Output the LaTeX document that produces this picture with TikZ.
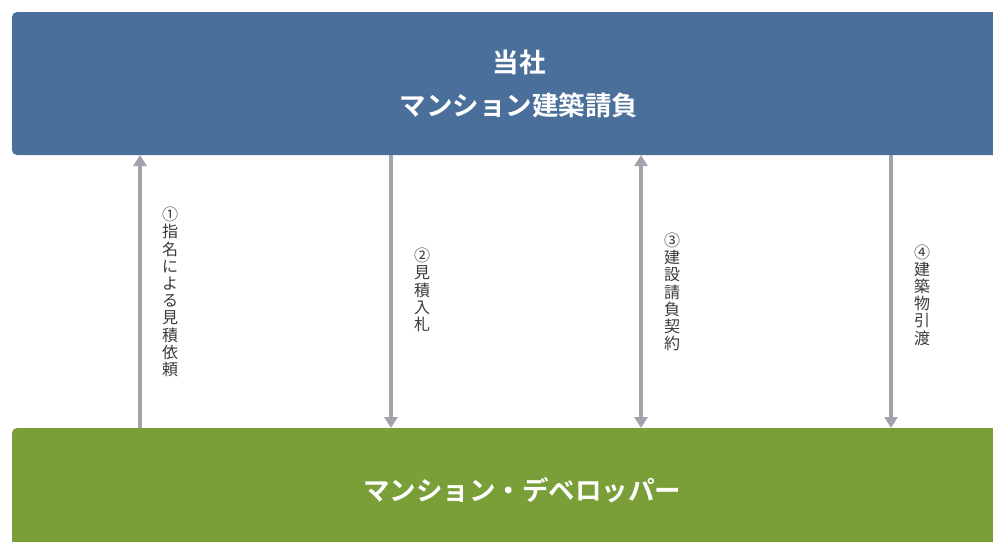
\documentclass[tikz,border=0pt]{standalone}
\usepackage{fontspec}
\newfontfamily\jp{Noto Sans CJK JP}[BoldFont={Noto Sans CJK JP Bold}]
\usetikzlibrary{arrows.meta}
\definecolor{topblue}{HTML}{4A6F9A}
\definecolor{devgreen}{HTML}{7A9F38}
\definecolor{arrgray}{HTML}{A3A3AB}
\definecolor{labgray}{HTML}{3A3A3A}
\tikzset{
  boxtext/.style={text=white,font=\jp\bfseries\fontsize{26.5}{43}\selectfont,align=center},
  flow/.style={draw=arrgray,line width=4pt,-{Triangle[width=13pt,length=11pt]}},
  flowboth/.style={draw=arrgray,line width=4pt,{Triangle[width=13pt,length=11pt]}-{Triangle[width=13pt,length=11pt]}},
  vlabel/.style={text=labgray,font=\jp\fontsize{16}{17.2}\selectfont,align=center,inner sep=0pt}
}
\begin{document}
\begin{tikzpicture}[x=1pt,y=-1pt]
\useasboundingbox (0,0) rectangle (993,541);
\fill[topblue,rounded corners=5pt] (12,12) rectangle (1020,155);
\fill[devgreen,rounded corners=5pt] (12,428) rectangle (1020,570);
\node[boxtext] (top) at (519,83.5) {当社\\マンション建築請負};
\node[boxtext] (dev) at (522,490) {マンション・デベロッパー};
\coordinate (t1) at (140,155); \coordinate (b1) at (140,428);
\coordinate (t2) at (391,155); \coordinate (b2) at (391,428);
\coordinate (t3) at (641,155); \coordinate (b3) at (641,428);
\coordinate (t4) at (891,155); \coordinate (b4) at (891,428);
\draw[flow] (b1) -- (t1);
\draw[flow] (t2) -- (b2);
\draw[flowboth] (t3) -- (b3);
\draw[flow] (t4) -- (b4);
\node[vlabel] (l1) at (170,292) {①\\指\\名\\に\\よ\\る\\見\\積\\依\\頼};
\node[vlabel] (l2) at (422,290) {②\\見\\積\\入\\札};
\node[vlabel] (l3) at (672,292) {③\\建\\設\\請\\負\\契\\約};
\node[vlabel] (l4) at (922,295) {④\\建\\築\\物\\引\\渡};
\end{tikzpicture}
\end{document}
